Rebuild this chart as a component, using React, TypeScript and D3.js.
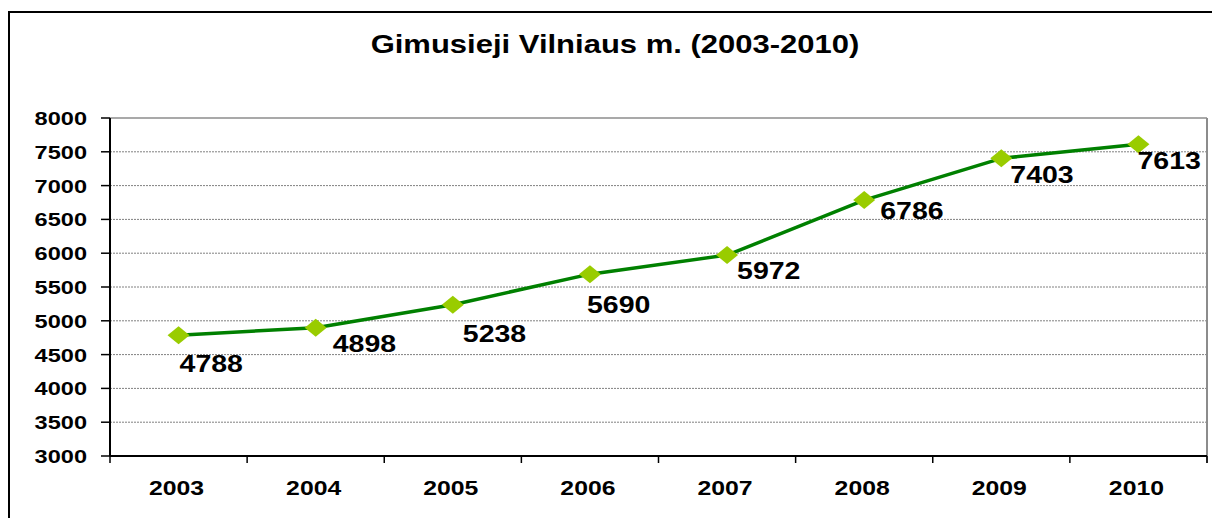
import React from "react";
import * as d3 from "d3";

const years = ["2003", "2004", "2005", "2006", "2007", "2008", "2009", "2010"];
const births = [4788, 4898, 5238, 5690, 5972, 6786, 7403, 7613];
const yTicks = [3000, 3500, 4000, 4500, 5000, 5500, 6000, 6500, 7000, 7500, 8000];
const title = "Gimusieji Vilniaus m. (2003-2010)";
// manual label placement (dx from point to label's left edge, dy to baseline)
const labelOffsets: [number, number][] = [
  [1, 37], [17, 24], [10, 37], [-3, 39], [10, 24], [16, 19], [9, 25], [-1, 25],
];

const W = 1212;
const H = 518;
const left = 110;
const right = 1207;
const top = 118;
const bottom = 456;
const FONT = "'Liberation Sans', Arial, Helvetica, sans-serif";
const SX = 1.24;

export default function App() {
  const x = d3.scaleBand<string>().domain(years).range([left, right]).padding(0);
  const y = d3.scaleLinear().domain([3000, 8000]).range([bottom, top]);
  const cx = (yr: string) => (x(yr) ?? 0) + x.bandwidth() / 2;
  const line = d3
    .line<number>()
    .x((_, i) => cx(years[i]))
    .y((d) => y(d));
  const boundaries = [...years.map((yr) => x(yr) ?? 0), right];

  return (
    <svg
      width={W}
      height={H}
      style={{ position: "absolute", left: 0, top: 0, background: "#fff" }}
      fontFamily={FONT}
    >
      <rect x={0} y={0} width={W} height={H} fill="#fff" />
      {/* outer chart border */}
      <rect x={9} y={12} width={W + 20} height={H + 20} fill="none" stroke="#000" strokeWidth={2} />

      {/* title */}
      <text
        transform={`translate(615,53) scale(${SX},1)`}
        textAnchor="middle"
        fontSize={25}
        fontWeight="bold"
        fill="#000"
      >
        {title}
      </text>

      {/* gridlines */}
      {yTicks
        .filter((t) => t !== 3000 && t !== 8000)
        .map((t) => (
          <line
            key={`g${t}`}
            x1={left}
            x2={right}
            y1={y(t)}
            y2={y(t)}
            stroke="#808080"
            strokeWidth={1}
            strokeDasharray="2,1"
          />
        ))}
      {/* plot area top/right border */}
      <line x1={left} x2={right} y1={y(8000)} y2={y(8000)} stroke="#8c8c8c" strokeWidth={1.5} />
      <line x1={right} x2={right} y1={top} y2={bottom + 7} stroke="#8c8c8c" strokeWidth={2} />

      {/* y axis */}
      <line x1={left} x2={left} y1={top} y2={bottom} stroke="#000" strokeWidth={2} />
      {yTicks.map((t) => (
        <g key={`yt${t}`}>
          <line x1={left - 9} x2={left} y1={y(t)} y2={y(t)} stroke="#000" strokeWidth={1.5} />
          <text
            transform={`translate(87,${y(t) + 7}) scale(${SX},1)`}
            textAnchor="end"
            fontSize={19}
            fontWeight="bold"
            fill="#000"
          >
            {t}
          </text>
        </g>
      ))}

      {/* x axis */}
      <line x1={left} x2={right} y1={bottom} y2={bottom} stroke="#000" strokeWidth={2} />
      {boundaries.map((b, i) => (
        <line key={`xt${i}`} x1={b} x2={b} y1={bottom} y2={bottom + 7} stroke="#000" strokeWidth={1.5} />
      ))}
      {years.map((yr) => (
        <text
          key={`xl${yr}`}
          transform={`translate(${cx(yr) - 2},495) scale(${SX},1)`}
          textAnchor="middle"
          fontSize={20}
          fontWeight="bold"
          fill="#000"
        >
          {yr}
        </text>
      ))}

      {/* series line */}
      <path d={line(births) ?? ""} fill="none" stroke="#008000" strokeWidth={3.5} strokeLinejoin="round" />

      {/* markers */}
      {births.map((v, i) => {
        const px = cx(years[i]);
        const py = y(v);
        const hw = 11;
        const hh = 9;
        return (
          <path
            key={`m${i}`}
            d={`M${px - hw},${py}L${px},${py - hh}L${px + hw},${py}L${px},${py + hh}Z`}
            fill="#99CC00"
          />
        );
      })}

      {/* data labels */}
      {births.map((v, i) => {
        const px = cx(years[i]);
        const py = y(v);
        const [dx, dy] = labelOffsets[i];
        return (
          <text
            key={`dl${i}`}
            transform={`translate(${px + dx},${py + dy}) scale(${SX},1)`}
            textAnchor="start"
            fontSize={23}
            fontWeight="bold"
            fill="#000"
          >
            {v}
          </text>
        );
      })}
    </svg>
  );
}
